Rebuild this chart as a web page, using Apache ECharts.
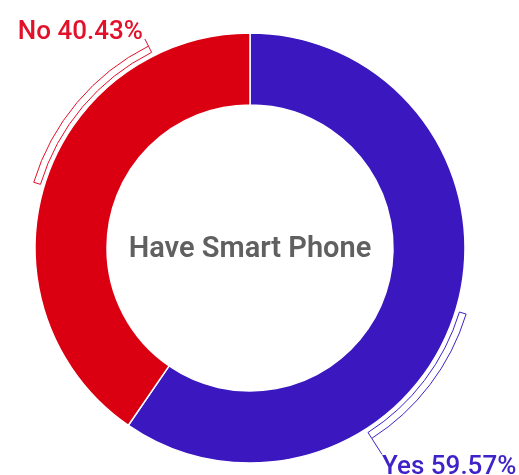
<!DOCTYPE html>
<html>
<head>
<meta charset="utf-8">
<script src="https://cdn.jsdelivr.net/npm/echarts@6/dist/echarts.min.js"></script>
<style>
  html, body { margin: 0; padding: 0; background: #ffffff; }
  #chart { width: 519px; height: 475px; }
</style>
</head>
<body>
<div id="chart"></div>
<script>
// Survey result: share of respondents who have a smart phone
const categories = ['Yes', 'No'];
const shares = [59.57, 40.43];
const centerTitle = 'Have Smart Phone';

// Styling
const sliceColors = ['#3a17bf', '#db0011'];
const labelColors = ['#3f22c8', '#e3102a'];

// Callout brackets drawn just outside the ring (degrees clockwise from 12 o'clock)
const bracketArcs = [[107, 147.4], [286.9, 333.3]];
const tickLengths = [19, 8];
// Callout text sits below (Yes) or above (No) the end of its leader line:
// an empty companion line pushes it by half the line height.
const labelBelow = [true, false];
const labelLineHeights = [26, 13];
const labelGaps = [0, 2];

const ringCenter = [250, 248];
const ringRadius = [143, 215];
const bracketRadius = [219, 226];
const titleDrop = 2;

const mainData = categories.map((name, i) => ({
  name: name,
  value: shares[i],
  itemStyle: { color: sliceColors[i] }
}));

// Bracket ring: transparent gaps, outlined arcs, and a hair-thin slice at each
// arc end that carries the label and its short leader line.
const bracketData = [];
let cursor = 0;
bracketArcs.forEach((arc, i) => {
  const hidden = { label: { show: false }, labelLine: { show: false } };
  const text = categories[i] + ' ' + shares[i].toFixed(2) + '%';
  bracketData.push(Object.assign({ value: arc[0] - cursor, itemStyle: { color: 'rgba(0,0,0,0)', borderWidth: 0 } }, hidden));
  bracketData.push(Object.assign({ value: arc[1] - arc[0], itemStyle: { color: '#ffffff', borderColor: labelColors[i], borderWidth: 1 } }, hidden));
  bracketData.push({
    value: 0.0001,
    itemStyle: { color: 'rgba(0,0,0,0)', borderWidth: 0 },
    label: {
      show: true,
      formatter: labelBelow[i] ? ' \n' + text : text + '\n ',
      color: labelColors[i],
      lineHeight: labelLineHeights[i],
      distanceToLabelLine: labelGaps[i]
    },
    labelLine: { show: true, length: tickLengths[i], length2: 0, lineStyle: { color: labelColors[i], width: 1 } }
  });
  cursor = arc[1];
});
bracketData.push({ value: 360 - cursor, itemStyle: { color: 'rgba(0,0,0,0)', borderWidth: 0 }, label: { show: false }, labelLine: { show: false } });

const chart = echarts.init(document.getElementById('chart'), null, { renderer: 'canvas' });
chart.setOption({
  animation: false,
  backgroundColor: '#ffffff',
  graphic: [{
    type: 'text',
    x: ringCenter[0],
    y: ringCenter[1] + titleDrop,
    style: {
      text: centerTitle,
      fill: '#606060',
      align: 'center',
      verticalAlign: 'middle',
      font: '600 29px Roboto, "Noto Sans", sans-serif'
    }
  }],
  series: [
    {
      type: 'pie',
      center: ringCenter,
      radius: ringRadius,
      startAngle: 90,
      clockwise: true,
      silent: true,
      label: { show: false },
      labelLine: { show: false },
      itemStyle: { borderColor: '#ffffff', borderWidth: 1.5 },
      data: mainData
    },
    {
      type: 'pie',
      center: ringCenter,
      radius: bracketRadius,
      startAngle: 90,
      clockwise: true,
      silent: true,
      avoidLabelOverlap: false,
      minShowLabelAngle: 0,
      label: {
        position: 'outside',
        bleedMargin: 0,
        overflow: 'none',
        fontFamily: 'Roboto, "Noto Sans", sans-serif',
        fontSize: 26,
        fontWeight: 500
      },
      labelLine: { smooth: false },
      emphasis: { disabled: true },
      data: bracketData
    }
  ]
});
</script>
</body>
</html>
